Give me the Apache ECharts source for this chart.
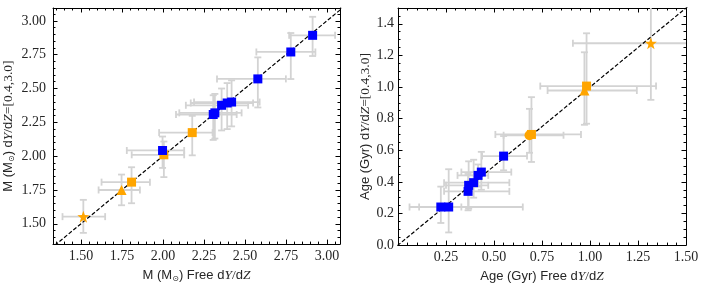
<!DOCTYPE html>
<html><head><meta charset="utf-8">
<script src="https://cdn.jsdelivr.net/npm/echarts@6/dist/echarts.min.js"></script>
<style>html,body{margin:0;padding:0;background:#fff}#c{width:705px;height:288px}</style>
</head><body><div id="c"></div><script>
// ---- Data: each row = [x, y, xLow, xHigh, yLow, yHigh]
var massBlue = [
  [1.998, 2.042, 1.78, 2.13, 1.913, 2.145],
  [2.307, 2.308, 2.08, 2.45, 2.12, 2.45],
  [2.317, 2.320, 2.10, 2.48, 2.13, 2.46],
  [2.358, 2.376, 2.14, 2.52, 2.19, 2.50],
  [2.392, 2.393, 2.17, 2.55, 2.20, 2.54],
  [2.419, 2.400, 2.19, 2.59, 2.22, 2.56],
  [2.579, 2.571, 2.33, 2.75, 2.36, 2.73],
  [2.780, 2.770, 2.57, 2.93, 2.57, 2.91],
  [2.913, 2.893, 2.77, 3.05, 2.74, 3.03]
];
var massOrangeSquare = [
  [1.809, 1.808, 1.626, 1.921, 1.652, 1.918],
  [2.006, 2.010, 1.81, 2.13, 1.845, 2.108],
  [2.179, 2.174, 1.977, 2.303, 2.006, 2.298]
];
var massOrangeTriangle = [[1.748, 1.750, 1.608, 1.860, 1.637, 1.864]];
var massOrangeStar = [[1.515, 1.553, 1.388, 1.648, 1.433, 1.677]];

var ageBlue = [
  [0.550, 0.563, 0.438, 0.672, 0.473, 0.690],
  [0.434, 0.462, 0.33, 0.59, 0.35, 0.59],
  [0.417, 0.441, 0.31, 0.47, 0.37, 0.51],
  [0.394, 0.395, 0.24, 0.58, 0.30, 0.54],
  [0.368, 0.378, 0.25, 0.47, 0.23, 0.53],
  [0.365, 0.340, 0.24, 0.58, 0.22, 0.45],
  [0.223, 0.241, 0.11, 0.33, 0.14, 0.37],
  [0.264, 0.241, 0.06, 0.65, 0.08, 0.48]
];
var ageOrangeSquare = [
  [0.982, 1.006, 0.741, 1.344, 0.768, 1.34],
  [0.695, 0.700, 0.507, 0.953, 0.526, 0.936]
];
var ageOrangeCircle = [[0.685, 0.695, 0.55, 0.862, 0.584, 0.862]];
var ageOrangeTriangle = [[0.971, 0.978, 0.779, 1.244, 0.761, 1.22]];
var ageOrangeStar = [[1.317, 1.277, 0.911, 1.56, 0.919, 1.56]];

// axis ranges & ticks
var massXRange = [1.33, 3.08], massYRange = [1.35, 3.095];
var ageXRange = [0, 1.5], ageYRange = [0, 1.5];
var massMajor = [1.50, 1.75, 2.00, 2.25, 2.50, 2.75, 3.00];
var ageXMajor = [0.25, 0.50, 0.75, 1.00, 1.25, 1.50];
var ageYMajor = [0.0, 0.2, 0.4, 0.6, 0.8, 1.0, 1.2, 1.4];
var minorStep = 0.05;

function minorTicks(range, step){
  var out = [], k = Math.ceil(range[0]/step - 1e-9);
  for (var v = k*step; v <= range[1] + 1e-9; v = (++k)*step) out.push(+v.toFixed(4));
  return out;
}

var BLUE = '#0000ff', ORANGE = '#ffa500', ERR = '#d3d3d3';
var TXT = '#262626';
var starPath = 'path://M0,-10 L2.35,-3.24 9.51,-3.09 3.8,1.24 5.88,8.09 0,4 -5.88,8.09 -3.8,1.24 -9.51,-3.09 -2.35,-3.24Z';

var rich = {
  s: {fontFamily: 'Liberation Sans', fontSize: 13, color: TXT, lineHeight: 16},
  sub: {fontFamily: 'DejaVu Sans', fontSize: 8, color: TXT, lineHeight: 8, verticalAlign: 'bottom'},
  i: {fontFamily: 'Liberation Serif', fontStyle: 'italic', fontSize: 13.5, color: TXT, lineHeight: 16},
  r: {fontFamily: 'Liberation Serif', fontSize: 13.5, color: TXT, lineHeight: 16}
};

function axisSet(dim, grid, range, majors, name, nameGap, margin, dec){
  var main = dim === 'x' ? 'bottom' : 'left';
  var opp = dim === 'x' ? 'top' : 'right';
  var minors = minorTicks(range, minorStep);
  var base = {type: 'value', gridIndex: grid, min: range[0], max: range[1], splitLine: {show: false}, scale: true};
  function mk(pos, vals, len, line, labels){
    return Object.assign({}, base, {
      position: pos,
      axisLine: {show: line, onZero: false, lineStyle: {color: '#000', width: 1}},
      axisTick: {show: true, inside: true, length: len, customValues: vals, lineStyle: {color: '#000', width: 1}},
      axisLabel: {show: labels}
    });
  }
  var a0 = mk(main, majors, 4.5, true, true);
  a0.axisLabel = {show: true, customValues: majors, margin: margin, color: TXT,
    fontFamily: 'Liberation Serif', fontSize: 14,
    formatter: function(v){ return (+v).toFixed(dec); }};
  a0.name = name; a0.nameLocation = 'middle'; a0.nameGap = nameGap;
  a0.nameTextStyle = {rich: rich};
  return [a0, mk(main, minors, 2.5, false, false), mk(opp, majors, 4.5, true, false), mk(opp, minors, 2.5, false, false)];
}

function errRender(params, api){
  var x = api.value(0), y = api.value(1);
  var pL = api.coord([api.value(2), y]), pR = api.coord([api.value(3), y]);
  var pB = api.coord([x, api.value(4)]), pT = api.coord([x, api.value(5)]);
  var c = 3.5, st = {stroke: ERR, lineWidth: 1.8};
  function ln(a, b){ return {type: 'line', shape: {x1: a[0], y1: a[1], x2: b[0], y2: b[1]}, style: st}; }
  return {type: 'group', children: [
    ln(pL, pR), ln([pL[0], pL[1]-c], [pL[0], pL[1]+c]), ln([pR[0], pR[1]-c], [pR[0], pR[1]+c]),
    ln(pB, pT), ln([pB[0]-c, pB[1]], [pB[0]+c, pB[1]]), ln([pT[0]-c, pT[1]], [pT[0]+c, pT[1]])
  ]};
}

function panelSeries(g, groups, diagRange){
  var xi = 4*g, yi = 4*g;
  var all = [];
  groups.forEach(function(gr){ all = all.concat(gr.data); });
  var s = [{
    type: 'custom', xAxisIndex: xi, yAxisIndex: yi, renderItem: errRender, clip: true,
    data: all, encode: {x: 0, y: 1}, z: 1, silent: true
  }, {
    type: 'line', xAxisIndex: xi, yAxisIndex: yi, data: [[diagRange[0], diagRange[0]], [diagRange[1], diagRange[1]]],
    symbol: 'none', lineStyle: {color: '#000', width: 1.2, type: [4, 2]}, z: 2, clip: true, silent: true
  }];
  groups.forEach(function(gr, k){
    s.push({type: 'scatter', xAxisIndex: xi, yAxisIndex: yi, data: gr.data.map(function(r){ return [r[0], r[1]]; }),
      symbol: gr.symbol, symbolSize: gr.size, itemStyle: {color: gr.color, opacity: 1}, z: 3 + k, silent: true});
  });
  return s;
}

var massName = '{s|M (M}{sub|⊙}{s|) Free d}{i|Y}{r|/}{s|d}{i|Z}';
var massYName = '{s|M (M}{sub|⊙}{s|) d}{i|Y}{r|/}{s|d}{i|Z}{r|=[0.4,3.0]}';
var ageName = '{s|Age (Gyr) Free d}{i|Y}{r|/}{s|d}{i|Z}';
var ageYName = '{s|Age (Gyr) d}{i|Y}{r|/}{s|d}{i|Z}{r|=[0.4,3.0]}';

var xAxes = [].concat(
  axisSet('x', 0, massXRange, massMajor, massName, 20, 5, 2),
  axisSet('x', 1, ageXRange, ageXMajor, ageName, 20, 5, 2)
);
var yAxes = [].concat(
  axisSet('y', 0, massYRange, massMajor, massYName, 37, 7, 2),
  axisSet('y', 1, ageYRange, ageYMajor, ageYName, 25, 4, 1)
);

var series = [].concat(
  panelSeries(0, [
    {data: massOrangeSquare, symbol: 'rect', size: 9, color: ORANGE},
    {data: massOrangeTriangle, symbol: 'triangle', size: 10, color: ORANGE},
    {data: massOrangeStar, symbol: starPath, size: 12, color: ORANGE},
    {data: massBlue, symbol: 'rect', size: 9, color: BLUE}
  ], [1.2, 3.2]),
  panelSeries(1, [
    {data: ageOrangeCircle, symbol: 'circle', size: 10, color: ORANGE},
    {data: ageOrangeSquare, symbol: 'rect', size: 9, color: ORANGE},
    {data: ageOrangeTriangle, symbol: 'triangle', size: 10, color: ORANGE},
    {data: ageOrangeStar, symbol: starPath, size: 12, color: ORANGE},
    {data: ageBlue, symbol: 'rect', size: 9, color: BLUE}
  ], [-0.1, 1.6])
);

var chart = echarts.init(document.getElementById('c'), null, {renderer: 'canvas'});
chart.setOption({
  animation: false,
  backgroundColor: '#fff',
  grid: [
    {left: 53, top: 8, width: 287, height: 238.5},
    {left: 398, top: 8, width: 288, height: 238.5}
  ],
  xAxis: xAxes,
  yAxis: yAxes,
  series: series
});
</script></body></html>
